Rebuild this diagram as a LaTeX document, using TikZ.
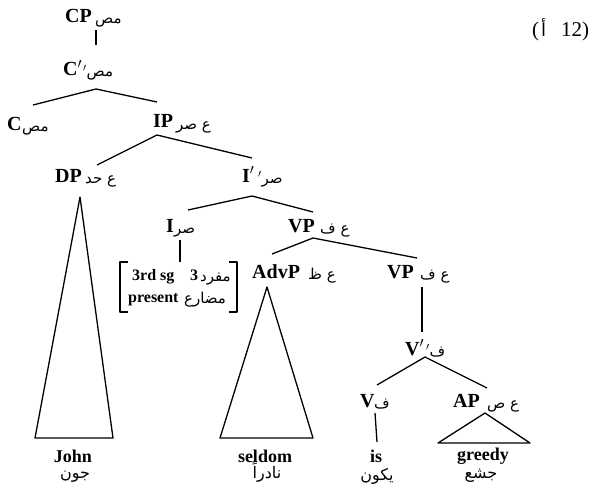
\documentclass[tikz,border=0pt]{standalone}
\usepackage{fontspec}
\setmainfont{Liberation Serif}
\newfontfamily\arabicfont[Script=Arabic]{DejaVu Sans}
\TeXXeTstate=1
\begin{document}
\begin{tikzpicture}[x=1pt,y=-1pt]
\tikzset{
  lat/.style={inner sep=0pt, anchor=base west, font=\fontsize{20}{20}\selectfont\bfseries},
  arb/.style={inner sep=0pt, anchor=base west, font=\fontsize{15}{15}\selectfont\arabicfont},
  leaf/.style={inner sep=0pt, anchor=base, font=\fontsize{18}{18}\selectfont\bfseries},
  arleaf/.style={inner sep=0pt, anchor=base, font=\fontsize{16}{16}\selectfont\arabicfont},
  feat/.style={inner sep=0pt, anchor=base west, font=\fontsize{16}{16}\selectfont\bfseries},
  num/.style={inner sep=0pt, anchor=base west, font=\fontsize{21}{21}\selectfont},
  ln/.style={line width=1.3pt, line join=round}
}
\useasboundingbox (0,0) rectangle (604,492);
% labels
\node[lat] (cp) at (65,23) {CP};
\node[arb] (cpa) at (95,24) {\beginR مص\endR};
\node[lat] (cbar) at (63,76) {C$'$};
\node[arb] (cbara) at (83,77) {$'$\beginR مص\endR};
\node[lat] (c) at (7,130) {C};
\node[arb] (ca) at (22,131) {\beginR مص\endR};
\node[lat] (ip) at (153,128) {IP};
\node[arb] (ipa) at (176,129) {\beginR ع صر\endR};
\node[lat] (dp) at (55,182) {DP};
\node[arb] (dpa) at (85,183) {\beginR ع حد\endR};
\node[lat] (ibar) at (242,182) {I$'$};
\node[arb] (ibara) at (258,183) {$'$\beginR صر\endR};
\node[lat] (i) at (166,232) {I};
\node[arb] (ia) at (174,233) {\beginR صر\endR};
\node[lat] (vp) at (288,232) {VP};
\node[arb] (vpa) at (320,233) {\beginR ع ف\endR};
\node[lat] (advp) at (252,278) {AdvP};
\node[arb] (advpa) at (308,279) {\beginR ع ظ\endR};
\node[lat] (vpb) at (387,278) {VP};
\node[arb] (vpba) at (420,279) {\beginR ع ف\endR};
\node[lat] (vbar) at (405,355) {V$'$};
\node[arb] (vbara) at (426,356) {$'$\beginR ف\endR};
\node[lat] (v) at (360,407) {V};
\node[arb] (va) at (374,408) {\beginR ف\endR};
\node[lat] (ap) at (453,407) {AP};
\node[arb] (apa) at (487,408) {\beginR ع ص\endR};
% leaves
\node[leaf] (john) at (73,462) {John};
\node[arleaf] (johna) at (75,478) {\beginR جون\endR};
\node[leaf] (seldom) at (265,462) {seldom};
\node[arleaf] (seldoma) at (267,478) {\beginR نادراً\endR};
\node[leaf] (is) at (376,462) {is};
\node[arleaf] (isa) at (377,480) {\beginR يكون\endR};
\node[leaf] (greedy) at (483,460) {greedy};
\node[arleaf] (greedya) at (481,478) {\beginR جشع\endR};
% feature box
\node[feat] (fa) at (132,280) {3rd sg};
\node[feat] (fb) at (190,280) {3};
\node[arb] (fc) at (200,281) {\beginR مفرد\endR};
\node[feat] (fd) at (128,302) {present};
\node[arb] (fe) at (184,303) {\beginR مضارع\endR};
\draw[ln] (128,262) -| (120,312) -- (128,312);
\draw[ln] (229,262) -| (237,312) -- (229,312);
% example number
\node[num] (exa) at (532,37) {(};
\node[inner sep=0pt, anchor=base west, font=\fontsize{18}{18}\selectfont\arabicfont] (exb) at (541,37) {\beginR أ\endR};
\node[num] (exc) at (561,37) {12)};
% attachment points
\coordinate (cp-b) at (96,30);
\coordinate (cbar-t) at (96,45);
\coordinate (cbar-b) at (96,89);
\coordinate (c-t) at (33,105);
\coordinate (ip-t) at (157,102);
\coordinate (ip-b) at (157,135);
\coordinate (dp-t) at (97,165);
\coordinate (ibar-t) at (252,158);
\coordinate (dp-b) at (80,197);
\coordinate (john-l) at (35,438);
\coordinate (john-r) at (113,438);
\coordinate (ibar-b) at (252,196);
\coordinate (i-t) at (188,210);
\coordinate (vp-t) at (313,212);
\coordinate (i-b) at (180,240);
\coordinate (f-t) at (180,262);
\coordinate (vp-b) at (313,238);
\coordinate (advp-t) at (272,254);
\coordinate (vpb-t) at (417,258);
\coordinate (advp-b) at (267,287);
\coordinate (seldom-l) at (220,438);
\coordinate (seldom-r) at (313,438);
\coordinate (vpb-b) at (422,287);
\coordinate (vbar-t) at (422,332);
\coordinate (vbar-b) at (425,357);
\coordinate (v-t) at (377,385);
\coordinate (ap-t) at (487,388);
\coordinate (v-b) at (375,413);
\coordinate (is-t) at (377,442);
\coordinate (ap-b) at (485,413);
\coordinate (greedy-l) at (438,443);
\coordinate (greedy-r) at (530,443);
% connectors
\draw[ln] (cp-b) -- (cbar-t);
\draw[ln] (c-t) -- (cbar-b) -- (ip-t);
\draw[ln] (dp-t) -- (ip-b) -- (ibar-t);
\draw[ln] (dp-b) -- (john-r) -- (john-l) -- cycle;
\draw[ln] (i-t) -- (ibar-b) -- (vp-t);
\draw[ln] (i-b) -- (f-t);
\draw[ln] (advp-t) -- (vp-b) -- (vpb-t);
\draw[ln] (advp-b) -- (seldom-r) -- (seldom-l) -- cycle;
\draw[ln] (vpb-b) -- (vbar-t);
\draw[ln] (v-t) -- (vbar-b) -- (ap-t);
\draw[ln] (v-b) -- (is-t);
\draw[ln] (ap-b) -- (greedy-r) -- (greedy-l) -- cycle;
\end{tikzpicture}
\end{document}
